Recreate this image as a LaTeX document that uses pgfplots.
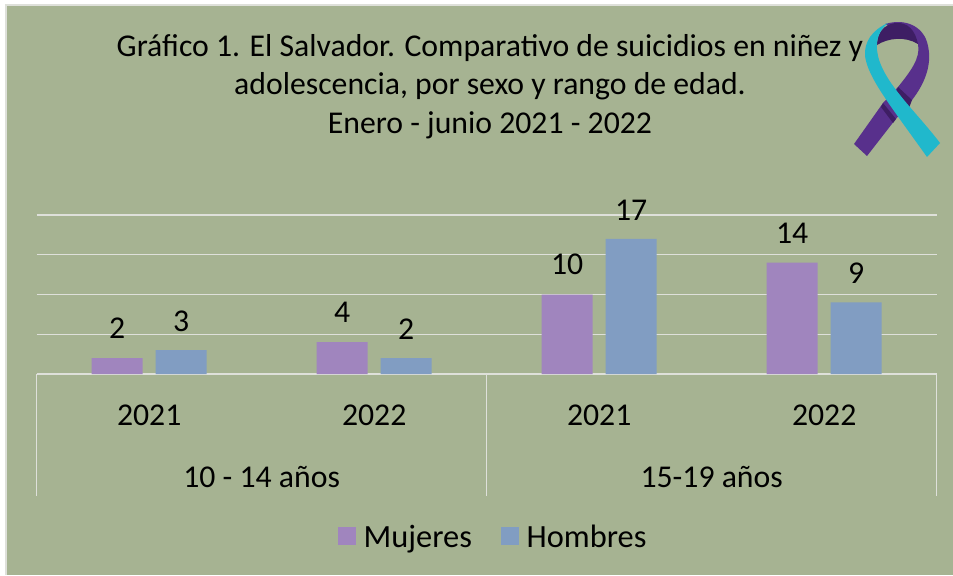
\documentclass[border=0pt]{standalone}
\usepackage{pgfplots}
\pgfplotsset{compat=1.18}
\usepackage{fontspec}
\setmainfont{Carlito}
\definecolor{bgc}{RGB}{166,179,146}
\definecolor{muj}{RGB}{160,133,190}
\definecolor{hom}{RGB}{129,157,194}
\definecolor{gridc}{RGB}{222,224,218}
\definecolor{ribp}{RGB}{88,48,140}
\definecolor{ribd}{RGB}{62,30,100}
\definecolor{ribt}{RGB}{32,184,204}
\begin{document}
\begin{tikzpicture}[x=0.75pt,y=-0.75pt,font=\fontsize{23.8pt}{28pt}\selectfont]
\useasboundingbox (0,0) rectangle (953,575);
\fill[white] (0,0) rectangle (953,575);
\fill[gridc] (5,4) rectangle (953,575);
\fill[bgc] (7,6) rectangle (953,575);
\begin{axis}[
  at={(27.5pt,-280.5pt)},anchor=south west,
  scale only axis,width=675pt,height=119.25pt,
  xmin=0,xmax=4,ymin=0,ymax=20,
  /pgf/number format/assume math mode=true,
  axis y line=none,
  axis x line*=bottom,
  axis line style={gridc,line width=1.2pt,-},
  xtick={0.5,1.5,2.5,3.5},
  xticklabels={2021,2022,2021,2022},
  x tick label style={yshift=-20pt},
  major tick length=0pt,
  clip=false,
  ybar=0pt,bar width=38.25pt,
  legend style={at={(0.5075,-1.0475)},anchor=center,draw=none,fill=none,inner sep=0pt,
    font=\fontsize{24.3pt}{28pt}\selectfont,
    legend columns=2,/tikz/every even column/.append style={column sep=19.5pt},
    /tikz/every odd column/.append style={column sep=4pt},
    nodes={inner sep=2pt,text depth=6pt,text height=16pt}},
  legend image code/.code={\fill[#1] (0pt,-0.13cm) rectangle (13.5pt,0.345cm);},
]
\pgfplotsinvokeforeach{5,10,15,20}{\draw[gridc,line width=0.9pt] (axis cs:0,#1) -- (axis cs:4,#1);}
\addplot[bar shift=-24pt,fill=muj,draw=none,nodes near coords,every node near coord/.append style={black,yshift=11pt}] coordinates {(0.5,2)(1.5,4)(2.5,10)(3.5,14)};
\addplot[bar shift=24pt,fill=hom,draw=none,nodes near coords,every node near coord/.append style={black,yshift=10.5pt}] coordinates {(0.5,3)(1.5,2)(2.5,17)(3.5,9)};
\legend{Mujeres,Hombres}
\draw[gridc,line width=1.2pt] (axis cs:0,0) -- (axis cs:0,-15.4);
\draw[gridc,line width=1.2pt] (axis cs:2,0) -- (axis cs:2,-15.4);
\draw[gridc,line width=1.2pt] (axis cs:4,0) -- (axis cs:4,-15.4);
\node at (axis cs:1,-12.9) {10 - 14 años};
\node at (axis cs:3,-12.9) {15-19 años};
\end{axis}
\node[align=center,inner sep=0pt] at (490,86.5) {Gráfico 1. El Salvador. Comparativo de suicidios en niñez y\\[0.5pt]adolescencia, por sexo y rango de edad.\\[1pt]Enero - junio 2021 - 2022};
% ribbon decoration
\fill[ribp] (885,24) .. controls (905,18) and (922,26) .. (927,42) .. controls (933,62) and (926,82) .. (912,100) -- (895,120) -- (867,156) -- (854,144) -- (883,103) -- (898,87) .. controls (910,72) and (921,58) .. (918,44) -- cycle;
\fill[ribd] (877,45) .. controls (877,32) and (884,25) .. (895,23) .. controls (908,22) and (915,30) .. (918,44) .. controls (905,36) and (888,38) .. (877,45) -- cycle;
\fill[ribd] (898,87) -- (912,100) -- (909,108) -- (896,92) -- cycle;
\fill[ribd] (883,103) -- (896,119) -- (893,123) -- (881,107) -- cycle;
\fill[ribt] (888,23) .. controls (872,30) and (864,42) .. (865,56) .. controls (868,78) and (890,105) .. (927,157) -- (940,143) .. controls (915,110) and (880,80) .. (877,50) .. controls (876,38) and (880,30) .. (888,23) -- cycle;
\end{tikzpicture}
\end{document}
